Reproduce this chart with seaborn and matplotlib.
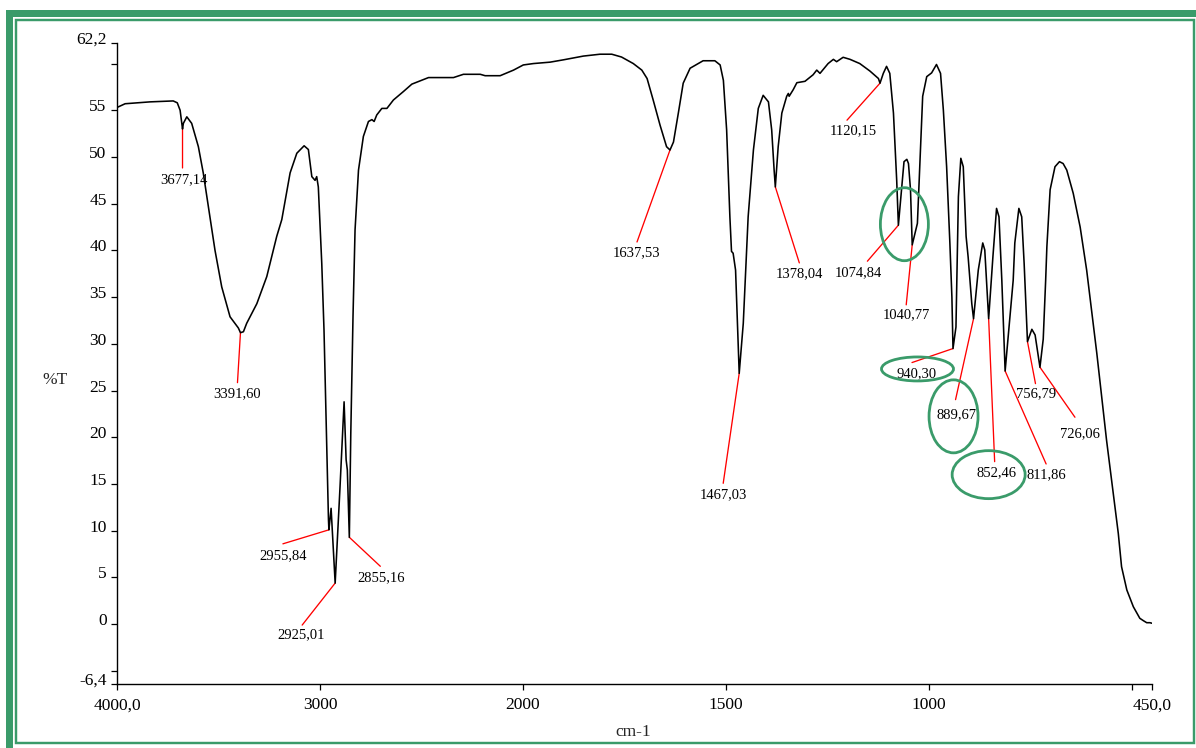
import numpy as np
import pandas as pd
import matplotlib
matplotlib.use("Agg")
import matplotlib.pyplot as plt
import matplotlib.transforms as mtransforms
from matplotlib.patches import Rectangle, Ellipse
from matplotlib.ticker import FixedLocator, FixedFormatter, NullLocator
import seaborn as sns

# ---------------- data ----------------
wavenumber = [
    4000, 3960, 3837, 3723, 3703, 3689, 3677.14, 3673, 3656, 3632, 3599, 3575, 3542, 3517,
    3484, 3443, 3402, 3391.60, 3377, 3361, 3311, 3262, 3213, 3188, 3147, 3114, 3078, 3057,
    3040, 3024, 3016, 3008, 2991, 2980, 2958, 2955.84, 2945, 2925.01, 2901, 2881, 2871,
    2865, 2855.16, 2848, 2837, 2827, 2810, 2786, 2761, 2744, 2733, 2720, 2695, 2670, 2638,
    2589, 2547, 2465, 2342, 2293, 2210, 2186, 2112, 2046, 1999, 1974, 1933, 1900, 1851,
    1810, 1781, 1757, 1728, 1707, 1694, 1679, 1662, 1646, 1637.53, 1629, 1617, 1605, 1588,
    1556, 1527, 1514, 1506, 1498, 1490, 1486, 1482, 1476, 1467.03, 1457, 1445, 1432, 1420,
    1408, 1395, 1387, 1381, 1378.04, 1371, 1362, 1350, 1346, 1344, 1334, 1325, 1305, 1285,
    1276, 1268, 1248, 1235, 1227, 1211, 1194, 1170, 1145, 1124, 1120.15, 1112, 1104, 1096,
    1087, 1079, 1074.84, 1067, 1061, 1054, 1050, 1045, 1040.77, 1034, 1028, 1022, 1015,
    1005, 993, 981, 971, 964, 956, 948, 943, 940.30, 933, 927, 921, 915, 908, 903, 894,
    889.67, 878, 867, 862, 856, 852.46, 842, 833, 827, 820, 811.86, 792, 788, 778, 771, 765,
    756.79, 746, 738, 726.06, 718, 712, 709, 701, 689, 678, 669, 660, 644, 627, 611, 595,
    586, 562, 537, 533, 525, 512, 496, 480, 471, 463, 455, 450,
]
transmittance = [
    55.3, 55.7, 55.9, 56.0, 55.8, 55.0, 53.0, 53.6, 54.3, 53.6, 51.1, 48.3, 43.6, 40.0,
    36.1, 32.9, 31.7, 31.2, 31.3, 32.2, 34.3, 37.2, 41.5, 43.3, 48.3, 50.4, 51.2, 50.8,
    47.9, 47.5, 47.9, 46.8, 38.6, 31.5, 11.2, 10.1, 12.4, 4.4, 14.7, 23.8, 17.6,
    16.5, 9.3, 20.4, 33.0, 42.2, 48.6, 52.2, 53.8, 54.0, 53.8, 54.5, 55.2, 55.2, 56.1,
    57.0, 57.8, 58.5, 58.5, 58.85, 58.85, 58.7, 58.7, 59.3, 59.85, 60.0, 60.15, 60.4, 60.8,
    61.0, 61.0, 60.7, 60.0, 59.3, 58.4, 56.1, 53.4, 51.1, 50.75, 51.6, 54.7, 57.9, 59.5,
    60.3, 60.3, 59.85, 58.2, 52.9, 43.6, 39.9, 39.7, 37.9, 26.85, 32.2, 43.6, 50.75, 55.2,
    56.6, 55.9, 52.9, 48.6, 46.8, 51.1, 54.7, 56.5, 56.8, 56.5, 57.2, 57.95, 58.1, 58.8,
    59.3, 58.95, 60.0, 60.45, 60.2, 60.67, 60.45, 60.0, 59.2, 58.4, 57.9, 58.95, 59.7, 58.95,
    54.7, 47.5, 42.7, 46.5, 49.5, 49.75, 49.3, 46.5, 40.6, 41.8, 42.9, 49.3, 56.5,
    58.6, 59.0, 59.9, 58.95, 55.0, 48.96, 40.8, 35.0, 29.5, 31.8, 45.75, 49.86, 48.96, 41.5, 39.3, 34.3,
    32.7, 37.9, 40.8, 40.05, 35.4, 32.7, 39.3, 44.5, 43.6, 36.8, 27.1, 36.8, 40.8, 44.5, 43.6, 38.6,
    30.24, 31.56, 30.95, 27.5, 30.5, 36.8, 40.4, 46.5, 48.96, 49.5, 49.3, 48.6, 46.1, 42.5, 37.9, 32.2,
    29.0, 19.7, 11.15, 9.7, 6.15, 3.66, 1.87, 0.63, 0.37, 0.16, 0.16, 0.1,
]
peak_wavenumbers = [3677.14, 3391.60, 2955.84, 2925.01, 2855.16, 1637.53, 1467.03, 1378.04,
                    1120.15, 1074.84, 1040.77, 940.30, 889.67, 852.46, 811.86, 756.79, 726.06]
circled_peaks = [1074.84, 940.30, 889.67, 852.46]

x_ticks = [4000, 3000, 2000, 1500, 1000, 500, 450]
x_tick_labels = ["4000,0", "3000", "2000", "1500", "1000", "", "450,0"]
y_ticks = [62.2, 60, 55, 50, 45, 40, 35, 30, 25, 20, 15, 10, 5, 0, -5, -6.4]
y_tick_labels = ["62,2", "", "55", "50", "45", "40", "35", "30", "25", "20", "15", "10",
                 "5", "0", "", "-6,4"]
x_label = "cm-1"
y_label = "%T"

# ---------------- layout (pixel offsets from each peak) ----------------
# (line end dx, dy), (text centre dx, dy); +y is upward
label_layout = [
    ((0, -39), (1, -51)),
    ((-3, -50), (-3, -61)),
    ((-46, -14), (-46, -26)),
    ((-33, -42), (-34, -52)),
    ((31, -29), (32, -40)),
    ((-33, -92), (-33, -103)),
    ((-16, -110), (-16, -121)),
    ((24, -76), (24, -87)),
    ((-33, -37), (-27, -48)),
    ((-31, -36), (-40, -47)),
    ((-6, -60), (-6, -70)),
    ((-41, -14), (-36, -25)),
    ((-18, -81), (-17, -96)),
    ((6, -143), (8, -154)),
    ((41, -93), (41, -104)),
    ((8, -42), (9, -52)),
    ((35, -50), (40, -66)),
]
# ellipse centre offset (dx, dy) and size (w, h) in pixels
ellipse_layout = [(6, 1, 48, 73), (-35.5, -20.4, 72, 24), (-20, -97.7, 49, 73), (0, -156, 73, 48)]

GREEN = "#3A9B6A"

# ---------------- figure ----------------
sns.set_style("ticks")
plt.rcParams["font.family"] = ["Liberation Serif", "DejaVu Serif"]

W, H = 1196, 748
fig = plt.figure(figsize=(W / 100, H / 100), dpi=100)
fig.patch.set_facecolor("white")
ax = fig.add_axes([117 / W, (H - 684) / H, 1035 / W, 641 / H])
ax.set_facecolor("white")


def fwd(w):
    w = np.asarray(w, dtype=float)
    return np.where(w > 2000, 2000 + (w - 2000) / 2.0, w)


def inv(u):
    u = np.asarray(u, dtype=float)
    return np.where(u > 2000, 2000 + (u - 2000) * 2.0, u)


ax.set_xscale("function", functions=(fwd, inv))

df = pd.DataFrame({"wavenumber": wavenumber, "T": transmittance})
sns.lineplot(data=df, x="wavenumber", y="T", sort=False, estimator=None,
             color="black", lw=1.15, ax=ax, zorder=3)

ax.set_xlim(4000, 450)
ax.set_ylim(-6.4, 62.2)

ax.xaxis.set_major_locator(FixedLocator(x_ticks))
ax.xaxis.set_major_formatter(FixedFormatter(x_tick_labels))
ax.xaxis.set_minor_locator(NullLocator())
ax.yaxis.set_major_locator(FixedLocator(y_ticks))
ax.yaxis.set_major_formatter(FixedFormatter(y_tick_labels))
ax.yaxis.set_minor_locator(NullLocator())

ax.tick_params(axis="both", direction="out", length=4.5, width=0.9, color="black",
               labelsize=12.5, labelcolor="black")
ax.tick_params(axis="x", pad=5)
ax.tick_params(axis="y", pad=3)

for s in ["top", "right"]:
    ax.spines[s].set_visible(False)
for s in ["left", "bottom"]:
    ax.spines[s].set_linewidth(1.0)
    ax.spines[s].set_color("black")

up = mtransforms.ScaledTranslation(0, 5 / 100, fig.dpi_scale_trans)
for lab in ax.get_yticklabels():
    lab.set_transform(lab.get_transform() + up)

ax.set_xlabel(x_label, fontsize=12.5)
ax.xaxis.set_label_coords(0.4986, -0.075)
ax.xaxis.label.set_va("center")
ax.set_ylabel(y_label, fontsize=12.5, rotation=0)
ax.yaxis.set_label_coords(-0.06, 0.474)
ax.yaxis.label.set_va("center")
ax.yaxis.label.set_ha("center")

# ---------------- peak annotations ----------------
wn_sorted = np.array(wavenumber)[::-1]
t_sorted = np.array(transmittance)[::-1]
peak_T = {}
for pw, ((ldx, ldy), (tdx, tdy)) in zip(peak_wavenumbers, label_layout):
    pt = float(np.interp(pw, wn_sorted, t_sorted))
    peak_T[pw] = pt
    ax.annotate("", xy=(pw, pt), xytext=(ldx, ldy), textcoords="offset pixels",
                arrowprops=dict(arrowstyle="-", color="red", lw=0.95,
                                shrinkA=0, shrinkB=0), zorder=2)
    ax.annotate(f"{pw:.2f}".replace(".", ","), xy=(pw, pt), xytext=(tdx, tdy),
                textcoords="offset pixels", ha="center", va="center",
                fontsize=10.5, color="black")

# green ellipses (display pixel coordinates anchored at the peaks)
for pw, (edx, edy, ew, eh) in zip(circled_peaks, ellipse_layout):
    cx, cy = ax.transData.transform((pw, peak_T[pw]))
    e = Ellipse((cx + edx, cy + edy), ew, eh, fill=False, edgecolor=GREEN, lw=2.0,
                transform=mtransforms.IdentityTransform(), zorder=5)
    fig.add_artist(e)

# ---------------- green frame ----------------
ident = mtransforms.IdentityTransform()
fig.add_artist(Rectangle((6, 0), 7, H - 10, facecolor=GREEN, edgecolor="none", transform=ident))
fig.add_artist(Rectangle((6, H - 17), W - 6, 7, facecolor=GREEN, edgecolor="none", transform=ident))
fig.add_artist(Rectangle((16.2, 5), 1194.2 - 16.2, (H - 19.5) - 5, fill=False,
                         edgecolor=GREEN, lw=1.75, transform=ident))

fig.savefig("out.png", dpi=100, facecolor="white")
